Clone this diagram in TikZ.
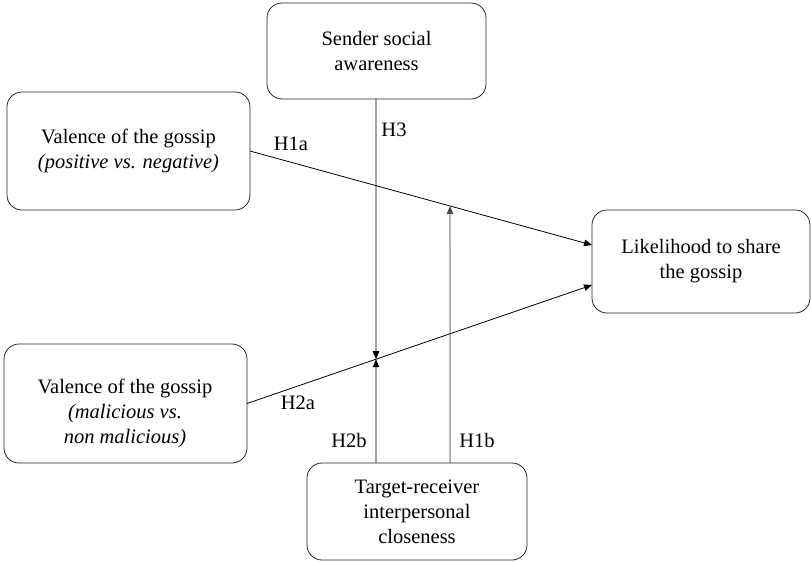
\documentclass[tikz,border=0pt]{standalone}
\usepackage{fontspec}
\setmainfont{Liberation Serif}
\usetikzlibrary{calc,arrows.meta}
\begin{document}
\begin{tikzpicture}[x=1pt,y=-1pt,
  txt/.style={font=\fontsize{20.5}{25}\selectfont,align=center,inner sep=0pt},
  box/.style={txt,draw=black!85,line width=0.8pt,rounded corners=15pt,outer sep=0pt},
  lbl/.style={font=\fontsize{20.5}{25}\selectfont,inner sep=0pt},
  arr/.style={line width=0.8pt,-{Triangle[length=8pt,width=6.5pt]}}]
\useasboundingbox (0,0) rectangle (811,562);
\node[box,minimum width=219pt,minimum height=96pt] (S) at (376.5,51) {Sender social\\awareness};
\node[box,minimum width=243pt,minimum height=118pt] (V1) at (128.5,151) {Valence of the gossip\\\textit{(positive vs. negative)}};
\node[box,minimum width=218pt,minimum height=103pt] (L) at (701,261.5) {Likelihood to share\\the gossip};
\node[box,minimum width=243pt,minimum height=119pt] (V2) at (125.5,403.5) {};
\node[txt] (V2t) at (125,413) {Valence of the gossip\\\textit{(malicious vs.}\\\textit{non malicious)}};
\node[box,minimum width=220pt,minimum height=97pt] (T) at (417,511.5) {Target-receiver\\interpersonal\\closeness};
% anchor points
\coordinate (l1) at ($(L.west)+(0,-16.5)$);
\coordinate (l2) at ($(L.west)+(0,23.5)$);
\coordinate (s3) at ($(S.south)+(-0.5,0)$);
\coordinate (t2) at (s3 |- T.north);
\coordinate (t1) at ($(T.north)+(33,0)$);
\coordinate (t1up) at ($(t1)+(0,-400)$);
\coordinate (m2) at (intersection of V2.east--l2 and s3--t2);
\coordinate (m1) at (intersection of V1.east--l1 and t1--t1up);
% connectors
\draw[arr] (V1.east) -- (l1);
\draw[arr] (V2.east) -- (l2);
\draw[arr] (s3) -- (m2);
\draw[arr] (t2) -- (m2);
\draw[arr,draw=black!70,fill=black] (t1) -- (m1);
% labels
\node[lbl] (h1a) at (291,144) {H1a};
\node[lbl] (h3) at (394,130) {H3};
\node[lbl] (h2a) at (298,403) {H2a};
\node[lbl] (h2b) at (349,440) {H2b};
\node[lbl] (h1b) at (477,440) {H1b};
\end{tikzpicture}
\end{document}
